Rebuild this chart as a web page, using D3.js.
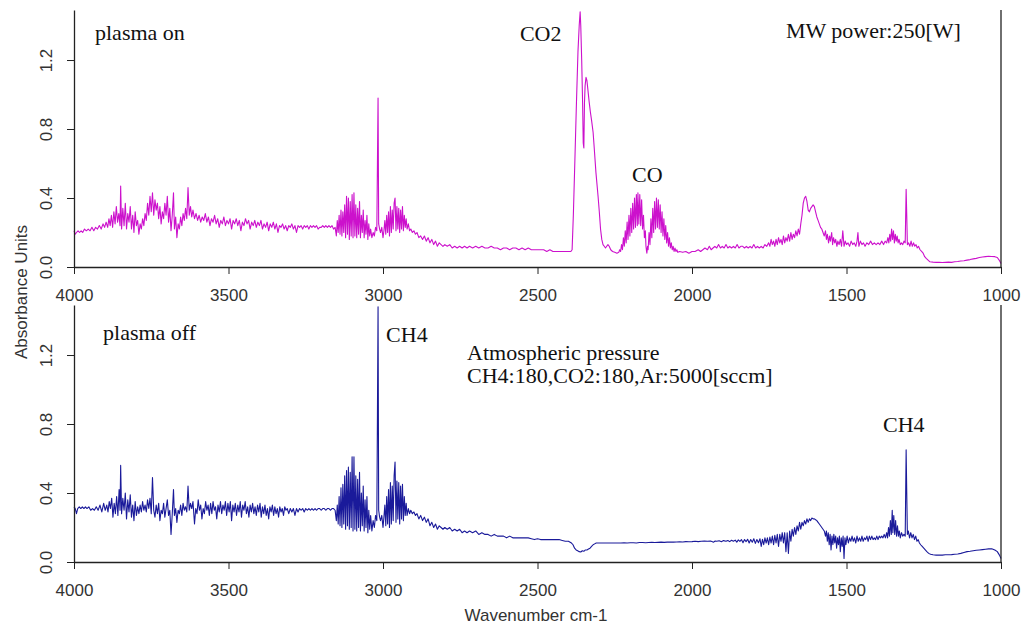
<!DOCTYPE html>
<html><head><meta charset="utf-8">
<script src="https://cdn.jsdelivr.net/npm/d3@7"></script>
<style>
body{margin:0;background:#fff;}
svg{display:block;}
</style></head>
<body>
<svg id="chart" width="1022" height="628"></svg>
<script>
// ---------------- DATA ----------------
const xTicks = [4000, 3500, 3000, 2500, 2000, 1500, 1000];
const yTicks = [0.0, 0.4, 0.8, 1.2];
const xDomain = [4000, 1000];
const yDomain = [0, 1.49];

// plasma on spectrum: [wavenumber, absorbance]
const plasmaOn = [
[4000,0.21],[3996,0.19],[3992,0.20],[3987,0.21],[3982,0.20],[3977,0.21],[3972,0.20],[3966,0.22],[3960,0.21],[3954,0.22],[3948,0.21],[3942,0.23],[3936,0.21],[3930,0.23],[3924,0.22],[3918,0.24],[3912,0.22],[3906,0.25],[3901,0.23],[3896,0.26],[3891,0.23],[3887,0.28],[3883,0.24],[3879,0.30],[3875,0.23],[3871,0.32],[3867,0.25],[3863,0.35],[3859,0.26],[3855,0.31],[3851,0.24],[3849,0.47],[3846,0.22],[3842,0.34],[3838,0.24],[3834,0.37],[3830,0.22],[3826,0.31],[3822,0.26],[3818,0.35],[3814,0.22],[3810,0.30],[3806,0.20],[3802,0.32],[3798,0.24],[3794,0.27],[3790,0.19],[3786,0.25],[3782,0.22],[3778,0.28],[3774,0.24],[3770,0.31],[3766,0.27],[3762,0.37],[3758,0.30],[3754,0.41],[3750,0.32],[3746,0.43],[3742,0.30],[3738,0.39],[3734,0.33],[3730,0.37],[3726,0.28],[3722,0.35],[3718,0.25],[3714,0.32],[3710,0.28],[3706,0.37],[3702,0.30],[3698,0.41],[3694,0.26],[3690,0.34],[3686,0.21],[3682,0.30],[3678,0.43],[3675,0.22],[3671,0.29],[3667,0.17],[3663,0.25],[3659,0.22],[3655,0.29],[3651,0.24],[3647,0.31],[3643,0.27],[3639,0.34],[3635,0.28],[3631,0.46],[3627,0.30],[3623,0.35],[3619,0.29],[3615,0.33],[3610,0.28],[3605,0.31],[3600,0.27],
[3595,0.30],[3590,0.26],[3585,0.29],[3580,0.27],[3575,0.31],[3570,0.26],[3565,0.29],[3560,0.24],[3555,0.28],[3550,0.26],[3545,0.30],[3540,0.25],[3535,0.28],[3530,0.23],[3525,0.27],[3520,0.25],[3515,0.29],[3510,0.24],[3505,0.27],[3500,0.25],[3495,0.28],[3490,0.22],[3485,0.27],[3480,0.25],[3475,0.28],[3470,0.24],[3465,0.27],[3460,0.21],[3455,0.26],[3450,0.24],[3445,0.28],[3440,0.25],[3435,0.27],[3430,0.22],[3425,0.26],[3420,0.24],[3415,0.27],[3410,0.23],[3405,0.26],[3400,0.24],[3395,0.27],[3390,0.22],[3385,0.25],[3380,0.23],[3375,0.26],[3370,0.21],[3365,0.25],[3360,0.23],[3355,0.26],[3350,0.22],[3345,0.25],[3340,0.20],[3335,0.24],[3330,0.23],[3325,0.25],[3320,0.22],[3315,0.24],[3310,0.21],[3305,0.24],[3300,0.23],[3295,0.25],[3290,0.22],[3285,0.24],[3280,0.20],[3275,0.24],[3270,0.23],[3265,0.24],[3260,0.22],[3255,0.24],[3250,0.23],[3245,0.24],[3240,0.22],[3235,0.24],[3230,0.23],[3225,0.24],[3220,0.23],[3215,0.24],[3210,0.22],[3205,0.23],[3200,0.23],[3195,0.24],[3190,0.23],[3185,0.24],[3180,0.23],[3175,0.24],[3170,0.23],[3165,0.24],[3160,0.22],[3155,0.23],
[3151,0.18],[3148,0.27],[3145,0.20],[3142,0.30],[3139,0.19],[3136,0.33],[3133,0.18],[3130,0.32],[3127,0.20],[3124,0.36],[3121,0.17],[3118,0.41],[3115,0.19],[3112,0.40],[3109,0.16],[3106,0.38],[3103,0.18],[3100,0.42],[3097,0.17],[3094,0.43],[3091,0.18],[3088,0.36],[3085,0.17],[3082,0.34],[3079,0.19],[3076,0.38],[3073,0.17],[3070,0.30],[3067,0.20],[3064,0.33],[3061,0.17],[3058,0.27],[3055,0.19],[3052,0.30],[3049,0.16],[3046,0.25],[3043,0.18],[3040,0.22],[3036,0.17],[3032,0.20],[3028,0.18],[3024,0.23],[3020,0.21],[3018,0.60],[3016,0.98],[3014,0.25],[3011,0.22],[3008,0.20],[3004,0.23],[3000,0.17],[2997,0.21],[2994,0.27],[2991,0.19],[2988,0.30],[2985,0.20],[2982,0.32],[2979,0.18],[2976,0.35],[2973,0.20],[2970,0.33],[2967,0.22],[2964,0.37],[2961,0.40],[2958,0.21],[2955,0.35],[2952,0.22],[2949,0.34],[2946,0.20],[2943,0.33],[2940,0.22],[2937,0.35],[2934,0.21],[2931,0.30],[2928,0.23],[2925,0.28],[2922,0.22],[2918,0.25],[2914,0.21],[2910,0.22],[2905,0.20],[2900,0.21],[2895,0.19],[2890,0.20],[2884,0.17],[2878,0.18],[2872,0.16],[2866,0.18],[2860,0.15],[2854,0.17],[2848,0.14],[2842,0.16],[2836,0.13],[2830,0.15],[2824,0.12],[2818,0.14],[2812,0.13],[2806,0.12],[2800,0.13],[2792,0.12],[2784,0.13],[2776,0.11],[2768,0.12],[2760,0.11],[2752,0.12],[2744,0.11],[2736,0.12],[2728,0.11],[2720,0.12],[2710,0.11],[2700,0.12],[2690,0.11],[2680,0.12],[2670,0.11],[2660,0.11],[2650,0.12],[2640,0.11],[2630,0.11],[2620,0.10],[2610,0.11],[2600,0.11],[2590,0.10],[2580,0.11],[2570,0.11],[2560,0.10],[2550,0.11],[2540,0.10],[2530,0.11],[2520,0.10],[2510,0.10],[2500,0.10],[2490,0.10],[2480,0.10],[2470,0.09],[2460,0.10],[2450,0.09],[2440,0.09],[2430,0.09],[2420,0.09],[2410,0.09],[2400,0.09],[2392,0.09],
[2388,0.10],[2384,0.30],[2379,0.62],[2374,0.95],[2369,1.25],[2365,1.40],[2362,1.48],[2360,1.40],[2357,1.20],[2354,0.95],[2352,0.72],[2350,0.69],[2348,0.95],[2346,1.05],[2343,1.10],[2340,1.08],[2337,1.03],[2333,0.96],[2329,0.90],[2325,0.85],[2320,0.78],[2316,0.68],[2311,0.55],[2307,0.47],[2304,0.41],[2300,0.32],[2296,0.22],[2292,0.16],[2288,0.13],[2284,0.12],[2280,0.11],[2276,0.12],[2272,0.13],[2268,0.12],[2263,0.10],[2257,0.09],[2250,0.085],[2243,0.08],[2237,0.085],
[2234,0.10],[2231,0.09],[2228,0.13],[2225,0.10],[2222,0.17],[2219,0.12],[2216,0.21],[2213,0.14],[2210,0.26],[2207,0.16],[2204,0.30],[2201,0.18],[2198,0.34],[2195,0.20],[2192,0.37],[2189,0.22],[2186,0.40],[2183,0.23],[2180,0.42],[2177,0.24],[2175,0.43],[2172,0.25],[2169,0.42],[2166,0.24],[2163,0.39],[2160,0.22],[2157,0.30],[2154,0.17],[2151,0.21],[2149,0.12],[2147,0.09],[2146,0.08],
[2144,0.12],[2142,0.10],[2139,0.20],[2136,0.13],[2133,0.28],[2130,0.17],[2127,0.34],[2124,0.20],[2121,0.38],[2118,0.22],[2115,0.40],[2112,0.23],[2109,0.39],[2106,0.22],[2103,0.36],[2100,0.20],[2097,0.32],[2094,0.18],[2091,0.28],[2088,0.16],[2085,0.24],[2082,0.14],[2079,0.20],[2076,0.12],[2073,0.17],[2070,0.11],[2067,0.14],[2064,0.10],[2061,0.12],[2058,0.09],[2055,0.11],[2052,0.09],[2049,0.10],[2046,0.085],[2040,0.09],
[2030,0.085],[2020,0.09],[2010,0.08],[2000,0.09],[1990,0.09],[1980,0.10],[1972,0.09],[1965,0.10],[1958,0.11],[1950,0.10],[1944,0.12],[1938,0.10],[1932,0.11],[1926,0.12],[1920,0.11],[1914,0.13],[1908,0.11],[1902,0.12],[1896,0.11],[1890,0.13],[1884,0.11],[1878,0.12],[1872,0.11],[1866,0.12],[1860,0.11],[1854,0.13],[1848,0.11],[1842,0.12],[1836,0.12],[1830,0.11],[1824,0.12],[1818,0.11],[1812,0.12],[1806,0.11],[1800,0.13],[1794,0.11],[1788,0.12],[1782,0.11],[1776,0.12],[1770,0.11],[1764,0.13],[1758,0.12],[1752,0.14],[1748,0.12],[1744,0.16],[1740,0.13],[1736,0.15],[1732,0.12],[1728,0.16],[1724,0.13],[1720,0.17],[1716,0.14],[1712,0.16],[1708,0.13],[1704,0.18],[1700,0.14],[1696,0.17],[1692,0.15],[1688,0.19],[1684,0.15],[1680,0.20],[1676,0.16],[1672,0.19],[1668,0.17],[1664,0.21],[1660,0.18],[1656,0.22],[1652,0.19],[1648,0.25],[1644,0.30],[1640,0.37],[1636,0.40],[1632,0.41],[1628,0.38],[1624,0.33],[1620,0.32],[1616,0.34],[1612,0.35],[1608,0.36],[1604,0.35],[1600,0.32],[1596,0.29],[1592,0.27],[1588,0.25],[1584,0.23],[1580,0.22],[1576,0.20],[1572,0.18],[1568,0.21],[1565,0.16],[1562,0.19],[1558,0.14],[1555,0.18],[1552,0.15],[1548,0.20],[1545,0.13],[1542,0.17],[1538,0.14],[1535,0.16],[1531,0.12],[1528,0.15],[1524,0.13],[1520,0.16],[1516,0.12],[1512,0.21],[1508,0.12],[1504,0.15],[1500,0.13],[1495,0.14],[1490,0.12],[1485,0.15],[1480,0.13],[1475,0.14],[1470,0.12],[1466,0.15],[1463,0.20],[1460,0.12],[1455,0.15],[1450,0.13],[1445,0.14],[1440,0.12],[1434,0.14],[1428,0.13],[1422,0.15],[1416,0.13],[1410,0.14],[1404,0.13],[1398,0.14],[1392,0.13],[1386,0.15],[1380,0.13],[1375,0.15],[1370,0.14],[1366,0.17],[1363,0.14],[1360,0.19],[1357,0.15],[1354,0.22],[1351,0.16],[1348,0.21],[1345,0.14],[1342,0.19],[1339,0.15],[1336,0.18],[1333,0.14],[1330,0.16],[1326,0.13],[1322,0.14],[1318,0.13],[1314,0.15],[1310,0.14],[1307,0.45],[1305,0.30],[1303,0.13],[1299,0.14],[1295,0.12],[1291,0.15],[1287,0.12],[1283,0.14],[1279,0.12],[1275,0.13],[1271,0.11],[1267,0.12],[1262,0.10],[1257,0.09],[1252,0.08],[1247,0.06],[1242,0.05],[1236,0.04],[1230,0.03],[1220,0.028],[1210,0.027],[1200,0.027],[1190,0.026],[1180,0.027],[1170,0.028],[1160,0.027],[1150,0.03],[1140,0.032],[1130,0.035],[1120,0.036],[1110,0.04],[1100,0.043],[1090,0.047],[1080,0.05],[1070,0.055],[1060,0.058],[1050,0.06],[1040,0.062],[1030,0.061],[1020,0.06],[1012,0.055],[1006,0.04],[1000,0.02]
];

// plasma off spectrum: [wavenumber, absorbance]
const plasmaOff = [
[4000,0.32],[3996,0.31],[3992,0.28],[3988,0.31],[3983,0.32],[3978,0.31],[3973,0.32],[3968,0.31],[3963,0.32],[3958,0.31],[3952,0.32],[3946,0.30],[3940,0.31],[3934,0.30],[3928,0.32],[3922,0.30],[3916,0.33],[3910,0.29],[3904,0.34],[3899,0.30],[3894,0.33],[3890,0.29],[3886,0.35],[3882,0.31],[3878,0.37],[3874,0.26],[3870,0.34],[3866,0.28],[3862,0.38],[3858,0.27],[3854,0.42],[3851,0.30],[3849,0.56],[3846,0.28],[3842,0.37],[3838,0.30],[3834,0.40],[3830,0.25],[3826,0.36],[3822,0.29],[3818,0.39],[3814,0.26],[3810,0.33],[3806,0.24],[3802,0.35],[3798,0.27],[3794,0.32],[3790,0.28],[3786,0.33],[3782,0.29],[3778,0.35],[3774,0.30],[3770,0.33],[3766,0.29],[3762,0.36],[3758,0.31],[3754,0.37],[3750,0.28],[3746,0.49],[3742,0.30],[3738,0.26],[3734,0.33],[3730,0.28],[3726,0.34],[3722,0.24],[3718,0.30],[3714,0.28],[3710,0.34],[3706,0.26],[3702,0.31],[3698,0.36],[3694,0.27],[3690,0.30],[3686,0.16],[3682,0.28],[3678,0.42],[3675,0.27],[3671,0.31],[3667,0.23],[3663,0.30],[3659,0.28],[3655,0.33],[3651,0.27],[3647,0.34],[3643,0.30],[3639,0.32],[3635,0.29],[3631,0.44],[3627,0.30],[3623,0.34],[3619,0.31],[3615,0.35],[3610,0.22],[3606,0.31],[3602,0.28],[3598,0.36],[3594,0.30],[3590,0.33],[3586,0.25],[3582,0.31],[3578,0.28],[3574,0.35],[3570,0.30],[3566,0.33],[3562,0.27],[3558,0.34],[3554,0.28],[3550,0.35],[3546,0.30],[3542,0.32],[3538,0.25],[3534,0.33],[3530,0.29],[3526,0.35],[3522,0.28],[3518,0.33],[3514,0.30],[3510,0.35],[3506,0.27],[3502,0.34],[3498,0.29],[3494,0.35],[3490,0.24],[3486,0.33],[3482,0.29],[3478,0.34],[3474,0.27],[3470,0.33],[3466,0.29],[3462,0.35],[3458,0.26],[3454,0.33],[3450,0.30],[3446,0.35],[3442,0.28],[3438,0.32],[3434,0.26],[3430,0.33],[3426,0.29],[3422,0.34],[3418,0.28],[3414,0.32],[3410,0.27],[3406,0.33],[3402,0.29],[3398,0.34],[3394,0.26],[3390,0.32],[3386,0.28],[3382,0.33],[3378,0.27],[3374,0.31],[3370,0.25],[3366,0.32],[3362,0.29],[3358,0.33],[3354,0.27],[3350,0.32],[3346,0.28],[3342,0.31],[3338,0.26],[3334,0.32],[3330,0.29],[3326,0.31],[3322,0.27],[3318,0.32],[3314,0.30],[3310,0.31],[3305,0.28],[3300,0.31],[3295,0.29],[3290,0.31],[3285,0.27],[3280,0.31],[3275,0.29],[3270,0.31],[3265,0.30],[3260,0.31],[3255,0.29],[3250,0.31],[3245,0.30],[3240,0.31],[3235,0.30],[3230,0.31],[3225,0.30],[3220,0.31],[3215,0.30],[3210,0.31],[3205,0.31],[3200,0.30],[3195,0.31],[3190,0.31],[3185,0.30],[3180,0.31],[3175,0.31],[3170,0.30],[3165,0.31],[3160,0.31],[3155,0.30],
[3151,0.24],[3148,0.33],[3145,0.22],[3142,0.38],[3139,0.21],[3136,0.43],[3133,0.20],[3130,0.45],[3127,0.22],[3124,0.50],[3121,0.19],[3118,0.53],[3115,0.21],[3112,0.55],[3109,0.19],[3106,0.52],[3103,0.20],[3100,0.61],[3097,0.18],[3094,0.61],[3091,0.19],[3088,0.50],[3085,0.18],[3082,0.48],[3079,0.20],[3076,0.52],[3073,0.18],[3070,0.40],[3067,0.21],[3064,0.44],[3061,0.18],[3058,0.36],[3055,0.20],[3052,0.38],[3049,0.17],[3046,0.30],[3043,0.19],[3040,0.27],[3036,0.18],[3032,0.24],[3028,0.20],[3024,0.27],[3020,0.24],[3018,0.85],[3016,1.48],[3014,0.30],[3011,0.26],[3008,0.24],[3004,0.27],[3000,0.20],[2997,0.26],[2994,0.33],[2991,0.21],[2988,0.38],[2985,0.22],[2982,0.42],[2979,0.20],[2976,0.46],[2973,0.22],[2970,0.44],[2967,0.24],[2964,0.50],[2961,0.58],[2958,0.23],[2955,0.47],[2952,0.25],[2949,0.46],[2946,0.22],[2943,0.44],[2940,0.25],[2937,0.45],[2934,0.24],[2931,0.38],[2928,0.27],[2925,0.34],[2922,0.27],[2918,0.31],[2914,0.28],[2910,0.30],[2905,0.28],[2900,0.29],[2895,0.27],[2890,0.28],[2884,0.25],[2878,0.27],[2872,0.24],[2866,0.26],[2860,0.23],[2854,0.25],[2848,0.21],[2842,0.23],[2836,0.20],[2830,0.22],[2824,0.19],[2818,0.21],[2812,0.20],[2806,0.19],[2800,0.20],[2792,0.19],[2784,0.20],[2776,0.18],[2768,0.19],[2760,0.18],[2752,0.19],[2744,0.17],[2736,0.18],[2728,0.17],[2720,0.18],[2710,0.17],[2700,0.18],[2690,0.16],[2680,0.17],[2670,0.16],[2660,0.16],[2650,0.15],[2640,0.16],[2630,0.15],[2620,0.15],[2610,0.15],[2600,0.14],[2590,0.15],[2580,0.14],[2570,0.14],[2560,0.14],[2550,0.14],[2540,0.14],[2530,0.14],[2520,0.135],[2510,0.13],[2500,0.135],[2490,0.13],[2480,0.13],[2470,0.13],[2460,0.13],[2450,0.13],[2440,0.13],[2430,0.13],[2420,0.125],[2410,0.12],[2400,0.12],[2390,0.11],[2385,0.10],[2380,0.08],[2375,0.07],[2370,0.065],[2365,0.06],[2360,0.058],[2355,0.065],[2350,0.062],[2345,0.07],[2340,0.07],[2335,0.075],[2330,0.08],[2325,0.09],[2320,0.10],[2315,0.105],[2310,0.11],[2300,0.11],[2290,0.11],[2280,0.11],
[2270,0.11],[2260,0.11],[2250,0.11],[2240,0.11],[2230,0.11],[2220,0.112],[2210,0.11],[2200,0.112],[2190,0.112],[2180,0.11],[2170,0.113],[2160,0.113],[2150,0.112],[2140,0.113],[2130,0.114],[2120,0.113],[2110,0.114],[2100,0.115],[2090,0.114],[2080,0.115],[2070,0.116],[2060,0.115],[2050,0.116],[2040,0.117],[2030,0.116],[2020,0.118],[2010,0.117],[2000,0.118],[1990,0.12],[1980,0.118],[1970,0.12],[1960,0.121],[1950,0.12],[1940,0.122],[1930,0.115],[1925,0.122],[1920,0.12],[1912,0.123],[1905,0.118],[1898,0.124],[1890,0.12],[1884,0.125],[1878,0.118],[1872,0.126],[1866,0.12],[1860,0.127],[1855,0.115],[1850,0.128],[1845,0.12],[1840,0.13],[1835,0.112],[1830,0.13],[1825,0.118],[1820,0.132],[1815,0.11],[1810,0.13],[1805,0.115],[1800,0.135],[1795,0.108],[1790,0.13],[1785,0.112],[1780,0.135],[1776,0.09],[1772,0.132],[1768,0.10],[1764,0.14],[1760,0.11],[1756,0.14],[1752,0.10],[1748,0.145],[1744,0.11],[1740,0.15],[1736,0.10],[1732,0.155],[1728,0.11],[1724,0.16],[1720,0.09],[1716,0.16],[1712,0.12],[1708,0.17],[1704,0.11],[1700,0.17],[1696,0.06],[1692,0.17],[1688,0.05],[1684,0.18],[1680,0.12],[1676,0.19],[1672,0.15],[1668,0.20],[1664,0.16],[1660,0.21],[1656,0.18],[1652,0.23],[1648,0.19],[1644,0.23],[1640,0.21],[1636,0.24],[1632,0.22],[1628,0.25],[1624,0.23],[1620,0.25],[1616,0.24],[1612,0.255],[1608,0.25],[1604,0.25],[1600,0.245],[1596,0.24],[1592,0.23],[1588,0.22],[1584,0.21],[1580,0.20],[1576,0.19],[1572,0.18],[1568,0.15],[1565,0.18],[1562,0.12],[1559,0.17],[1556,0.10],[1553,0.16],[1550,0.07],[1547,0.15],[1544,0.10],[1541,0.16],[1538,0.11],[1535,0.15],[1532,0.08],[1529,0.14],[1526,0.10],[1523,0.15],[1520,0.06],[1517,0.14],[1514,0.09],[1511,0.15],[1508,0.02],[1505,0.14],[1502,0.10],[1498,0.15],[1494,0.11],[1490,0.14],[1486,0.12],[1482,0.15],[1478,0.12],[1474,0.14],[1470,0.11],[1466,0.15],[1462,0.12],[1458,0.14],[1454,0.12],[1450,0.15],[1446,0.12],[1442,0.14],[1438,0.13],[1434,0.15],[1430,0.12],[1426,0.15],[1422,0.13],[1418,0.15],[1414,0.13],[1410,0.14],[1406,0.13],[1402,0.15],[1398,0.13],[1394,0.15],[1390,0.14],[1386,0.15],[1382,0.14],[1378,0.16],[1374,0.14],[1370,0.17],[1367,0.14],[1364,0.20],[1361,0.15],[1358,0.24],[1355,0.16],[1352,0.30],[1350,0.17],[1347,0.27],[1344,0.16],[1341,0.24],[1338,0.15],[1335,0.21],[1332,0.15],[1329,0.18],[1326,0.14],[1322,0.17],[1318,0.15],[1314,0.16],[1310,0.15],[1307,0.65],[1305,0.40],[1303,0.16],[1300,0.18],[1296,0.14],[1292,0.17],[1288,0.14],[1284,0.16],[1280,0.13],[1276,0.15],[1272,0.12],[1268,0.13],[1264,0.11],[1260,0.10],[1255,0.09],[1250,0.08],[1245,0.07],[1240,0.06],[1234,0.05],[1228,0.045],[1220,0.042],[1210,0.04],[1200,0.04],[1190,0.04],[1180,0.042],[1170,0.042],[1160,0.043],[1150,0.045],[1140,0.046],[1130,0.05],[1120,0.055],[1110,0.06],[1100,0.062],[1090,0.065],[1080,0.068],[1070,0.07],[1060,0.072],[1050,0.074],[1040,0.076],[1030,0.077],[1020,0.07],[1012,0.06],[1005,0.04],[1000,0.02]
];

const topNotes = [
  {text: "plasma on", wn: 3932, y: 1.316},
  {text: "CO2", wn: 2557, y: 1.31},
  {text: "CO", wn: 2194, y: 0.493},
  {text: "MW power:250[W]", wn: 1696, y: 1.328}
];
const bottomNotes = [
  {text: "plasma off", wn: 3906, y: 1.287},
  {text: "CH4", wn: 2990, y: 1.275},
  {text: "Atmospheric pressure", wn: 2728, y: 1.171},
  {text: "CH4:180,CO2:180,Ar:5000[sccm]", wn: 2728, y: 1.038},
  {text: "CH4", wn: 1382, y: 0.754}
];

// ---------------- LAYOUT ----------------
const svg = d3.select("#chart");
const X0 = 74, X1 = 1001;
const panels = [
  {data: plasmaOn, top: 10, bottom: 267, color: "#cc11cc", notes: topNotes},
  {data: plasmaOff, top: 305, bottom: 562, color: "#1a1a9a", notes: bottomNotes}
];
const x = d3.scaleLinear().domain(xDomain).range([X0, X1]);
const axisColor = "#222";
const tickFont = "Liberation Sans, Arial, sans-serif";

panels.forEach(p => {
  const y = d3.scaleLinear().domain(yDomain).range([p.bottom, p.top]);
  const g = svg.append("g");

  const line = d3.line().x(d => x(d[0])).y(d => y(d[1]));
  g.append("path").datum(p.data)
    .attr("d", line).attr("fill", "none")
    .attr("stroke", p.color).attr("stroke-width", 1.1)
    .attr("stroke-linejoin", "round");

  const xa = g.append("g").attr("transform", `translate(0,${p.bottom})`)
    .call(d3.axisBottom(x).tickValues(xTicks).tickFormat(d3.format("d"))
      .tickSize(7).tickSizeOuter(0).tickPadding(15));
  xa.select(".domain").attr("stroke", axisColor).attr("stroke-width", 1.3);
  xa.selectAll(".tick line").attr("stroke", axisColor);
  xa.selectAll(".tick text").attr("font-family", tickFont).attr("font-size", 17).attr("fill", "#333");

  const ya = g.append("g").attr("transform", `translate(${X0},0)`)
    .call(d3.axisLeft(y).tickValues(yTicks).tickFormat(d3.format(".1f"))
      .tickSize(7).tickSizeOuter(0));
  ya.select(".domain").attr("stroke", axisColor).attr("stroke-width", 1.3);
  ya.selectAll(".tick line").attr("stroke", axisColor);
  ya.selectAll(".tick text")
    .attr("font-family", tickFont).attr("font-size", 17).attr("fill", "#333")
    .attr("text-anchor", "middle").attr("transform", "rotate(-90)")
    .attr("x", 0).attr("y", -22).attr("dy", 0);

  g.append("line").attr("x1", X1).attr("x2", X1).attr("y1", p.top).attr("y2", p.bottom)
    .attr("stroke", axisColor).attr("stroke-width", 1.3);

  g.selectAll("text.note").data(p.notes).enter().append("text")
    .attr("class", "note")
    .attr("x", d => x(d.wn)).attr("y", d => y(d.y))
    .attr("font-family", "Liberation Serif, 'Times New Roman', serif")
    .attr("font-size", 22).attr("fill", "#111")
    .text(d => d.text);
});

svg.append("text").attr("transform", "translate(27,292) rotate(-90)")
  .attr("text-anchor", "middle").attr("font-family", tickFont)
  .attr("font-size", 17).attr("fill", "#333").text("Absorbance Units");
svg.append("text").attr("x", 536).attr("y", 621)
  .attr("text-anchor", "middle").attr("font-family", tickFont)
  .attr("font-size", 17).attr("fill", "#333").text("Wavenumber cm-1");
</script>
</body></html>
